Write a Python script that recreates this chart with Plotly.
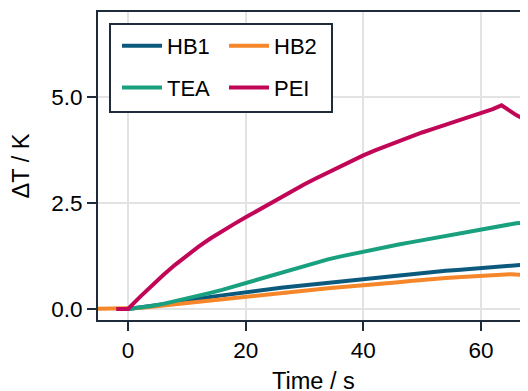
import plotly.graph_objects as go

# ---- data ----
time_s = [-6, -4, -2, 0, 2, 4, 6, 8, 10, 12, 14, 16, 18, 20, 22, 24, 26, 28, 30,
          32, 34, 36, 38, 40, 42, 44, 46, 48, 50, 52, 54, 56, 58, 60, 62, 63.5,
          65, 66, 68]

hb1 = [None, None, None, 0.0, 0.03, 0.07, 0.11, 0.15, 0.20, 0.24, 0.28, 0.32,
       0.36, 0.40, 0.43, 0.47, 0.50, 0.53, 0.56, 0.59, 0.62, 0.65, 0.68, 0.71,
       0.73, 0.76, 0.79, 0.83, 0.86, 0.88, 0.90, 0.92, 0.94, 0.96, 0.98, 1.00,
       1.02, 1.03, 1.05]

hb2 = [0.0, 0.0, 0.0, 0.0, 0.02, 0.05, 0.08, 0.11, 0.15, 0.18, 0.21, 0.24,
       0.27, 0.30, 0.33, 0.36, 0.39, 0.42, 0.44, 0.47, 0.49, 0.51, 0.53, 0.55,
       0.58, 0.61, 0.63, 0.66, 0.69, 0.71, 0.73, 0.75, 0.77, 0.78, 0.79, 0.81,
       0.82, 0.81, 0.80]

tea = [None, None, None, 0.0, 0.03, 0.07, 0.12, 0.18, 0.24, 0.31, 0.38, 0.45,
       0.53, 0.61, 0.70, 0.79, 0.87, 0.95, 1.03, 1.10, 1.17, 1.235, 1.295,
       1.355, 1.41, 1.465, 1.52, 1.57, 1.62, 1.67, 1.72, 1.77, 1.82, 1.88,
       1.93, 1.97, 2.01, 2.02, 2.04]

pei = [None, None, 0.0, 0.0, 0.28, 0.55, 0.80, 1.04, 1.26, 1.47, 1.66, 1.84,
       2.00, 2.16, 2.32, 2.48, 2.64, 2.79, 2.94, 3.08, 3.22, 3.36, 3.50, 3.62,
       3.74, 3.85, 3.96, 4.06, 4.16, 4.25, 4.34, 4.43, 4.52, 4.61, 4.71, 4.80,
       4.66, 4.57, 4.43]

series_names = ["HB1", "HB2", "TEA", "PEI"]
series_values = [hb1, hb2, tea, pei]
series_colors = ["#0b5a7e", "#f5862a", "#19a07f", "#c20657"]
series_legend = ["legend", "legend2", "legend", "legend2"]

x_ticks = [0, 20, 40, 60]
y_ticks = [0.0, 2.5, 5.0]
x_title = "Time / s"
y_title = "ΔT / K"

FONT = "Liberation Sans, Arial, Helvetica, sans-serif"
AXIS = "#1d2c38"

# The page body has an 8px margin, so the figure is drawn 8px in from the
# window corner.  Geometry below is given in window pixels and converted.
OFF = 8
FIG_W, FIG_H = 528 - OFF, 391 - OFF
L, R, T, B = 98, 528, 12, 320          # plot area in window pixels
W, H = R - L, B - T


def px_x(p):
    return (p - L) / W


def px_y(p):
    return 1 - (p - T) / H


fig = go.Figure()
for name, vals, col, lg in zip(series_names, series_values, series_colors,
                               series_legend):
    fig.add_trace(go.Scatter(x=time_s, y=vals, name=name, mode="lines",
                             line=dict(color=col, width=4),
                             legend=lg, legendgroup=name,
                             connectgaps=False))

legend_common = dict(
    orientation="v", xanchor="left", yanchor="top",
    bgcolor="rgba(0,0,0,0)", borderwidth=0, itemwidth=40,
    tracegroupgap=10, traceorder="grouped",
    font=dict(family=FONT, size=22, color="black"),
)

fig.update_layout(
    width=FIG_W, height=FIG_H,
    margin=dict(l=L - OFF, r=528 - R, t=T - OFF, b=391 - B),
    paper_bgcolor="white", plot_bgcolor="white",
    font=dict(family=FONT, size=22, color="black"),
    showlegend=True,
    legend=dict(x=px_x(117), y=px_y(25), **legend_common),
    legend2=dict(x=px_x(224), y=px_y(25), **legend_common),
    shapes=[dict(type="rect", xref="paper", yref="paper",
                 x0=px_x(110), x1=px_x(332), y0=px_y(112), y1=px_y(24),
                 fillcolor="white", line=dict(color=AXIS, width=2),
                 layer="above")],
    annotations=[dict(text=x_title, xref="paper", yref="paper",
                      x=0.5, y=px_y(366), xanchor="center", yanchor="top",
                      showarrow=False,
                      font=dict(family=FONT, size=23.5, color="black"))],
)

fig.update_xaxes(
    range=[-5.1, 68], tickvals=x_ticks, ticks="outside", ticklen=9,
    tickwidth=2, tickcolor=AXIS, showline=True, linecolor=AXIS, linewidth=2,
    mirror=True, showgrid=True, gridcolor="#e3e3e3", gridwidth=1.5,
    zeroline=False, automargin=False,
    tickfont=dict(family=FONT, size=22.5, color="black"),
)
fig.update_yaxes(
    range=[-0.26, 7.0], tickvals=y_ticks, tickformat=".1f", ticks="outside",
    ticklen=9, tickwidth=2, tickcolor=AXIS, showline=True, linecolor=AXIS,
    linewidth=2, showgrid=True, gridcolor="#e3e3e3", gridwidth=1.5,
    zeroline=False, automargin=False,
    tickfont=dict(family=FONT, size=22.5, color="black"),
    title=dict(text=y_title, standoff=15,
               font=dict(family=FONT, size=23.5, color="black")),
)

fig.write_html("out.html")
